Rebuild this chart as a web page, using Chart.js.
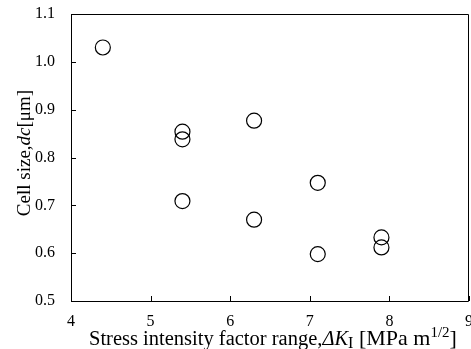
<!DOCTYPE html>
<html>
<head>
<meta charset="utf-8">
<script src="https://cdn.jsdelivr.net/npm/chart.js@4"></script>
<style>
  html, body { margin: 0; padding: 0; background: #fff; }
  #wrap { width: 471px; height: 349px; }
</style>
</head>
<body>
<div id="wrap"><canvas id="chart" width="471" height="349"></canvas></div>
<script>
// === DATOS ===
const deltaK = [4.4, 5.4, 5.4, 6.3, 5.4, 6.3, 7.1, 7.1, 7.9, 7.9];
const cellSize = [1.03, 0.854, 0.838, 0.877, 0.709, 0.670, 0.747, 0.598, 0.633, 0.612];
const xTicks = [4, 5, 6, 7, 8, 9];
const yTicks = [0.5, 0.6, 0.7, 0.8, 0.9, 1.0, 1.1];

const FONT = "'Liberation Serif', 'Times New Roman', serif";

// dibuja segmentos de texto con estilos distintos
function drawSegments(ctx, segs, x, y) {
  segs.forEach(s => {
    ctx.font = (s.italic ? "italic " : "") + s.size + "px " + FONT;
    ctx.fillText(s.t, x, y + (s.dy || 0));
    x += ctx.measureText(s.t).width;
  });
}
function segWidth(ctx, segs) {
  let w = 0;
  segs.forEach(s => {
    ctx.font = (s.italic ? "italic " : "") + s.size + "px " + FONT;
    w += ctx.measureText(s.t).width;
  });
  return w;
}

// marco, ticks hacia adentro y títulos de ejes
const framePlugin = {
  id: "frame",
  afterDraw(chart) {
    const ctx = chart.ctx;
    const a = chart.chartArea;
    const xs = chart.scales.x, ys = chart.scales.y;
    ctx.save();
    ctx.strokeStyle = "#000";
    ctx.lineWidth = 1;
    ctx.beginPath();
    ctx.rect(Math.round(a.left) + 0.5, Math.round(a.top) + 0.5,
             Math.round(a.right - a.left) - 1, Math.round(a.bottom - a.top));
    ctx.stroke();
    ctx.beginPath();
    xTicks.forEach(v => {
      const px = Math.round(xs.getPixelForValue(v)) + 0.5;
      ctx.moveTo(px, a.bottom);
      ctx.lineTo(px, a.bottom - 5);
    });
    yTicks.forEach(v => {
      const py = Math.round(ys.getPixelForValue(v)) + 0.5;
      ctx.moveTo(a.left, py);
      ctx.lineTo(a.left + 5, py);
    });
    ctx.stroke();

    ctx.fillStyle = "#000";
    ctx.textBaseline = "alphabetic";
    ctx.textAlign = "left";
    const xt = [
      { t: "Stress intensity factor range,", size: 20.5 },
      { t: "ΔK", size: 20.5, italic: true },
      { t: "I", size: 16, dy: 3 },
      { t: " [MPa m", size: 22 },
      { t: "1/2", size: 15, dy: -8 },
      { t: "]", size: 22 }
    ];
    drawSegments(ctx, xt, 89, 345);

    const yt = [
      { t: "Cell size,", size: 19 },
      { t: "dc", size: 19, italic: true },
      { t: "[μm]", size: 19 }
    ];
    const wy = segWidth(ctx, yt);
    ctx.translate(30, 153);
    ctx.rotate(-Math.PI / 2);
    drawSegments(ctx, yt, -wy / 2, 0);
    ctx.restore();
  }
};

const ctx = document.getElementById("chart").getContext("2d");
new Chart(ctx, {
  type: "scatter",
  data: {
    datasets: [{
      data: deltaK.map((x, i) => ({ x: x, y: cellSize[i] })),
      pointRadius: 7.5,
      pointHoverRadius: 7.5,
      pointBackgroundColor: "rgba(255,255,255,0)",
      pointBorderColor: "#000",
      pointBorderWidth: 1.2
    }]
  },
  options: {
    responsive: false,
    animation: false,
    layout: { autoPadding: false, padding: { top: 14, right: 2, left: 0, bottom: 0 } },
    plugins: {
      legend: { display: false },
      tooltip: { enabled: false }
    },
    scales: {
      x: {
        type: "linear",
        min: 4,
        max: 9,
        afterBuildTicks: s => { s.ticks = xTicks.map(v => ({ value: v })); },
        afterFit: s => { s.height = 48; s.paddingLeft = 0; s.paddingRight = 0; },
        grid: { display: false, drawTicks: false },
        border: { display: false },
        ticks: {
          color: "#000",
          padding: 11,
          maxRotation: 0,
          autoSkip: false,
          font: { family: FONT, size: 16 }
        }
      },
      y: {
        type: "linear",
        min: 0.5,
        max: 1.1,
        afterBuildTicks: s => { s.ticks = yTicks.map(v => ({ value: v })); },
        afterFit: s => { s.width = 71; s.paddingTop = 0; s.paddingBottom = 0; },
        grid: { display: false, drawTicks: false },
        border: { display: false },
        ticks: {
          color: "#000",
          padding: 16,
          font: { family: FONT, size: 16 },
          callback: v => v.toFixed(1)
        }
      }
    }
  },
  plugins: [framePlugin]
});
</script>
</body>
</html>
